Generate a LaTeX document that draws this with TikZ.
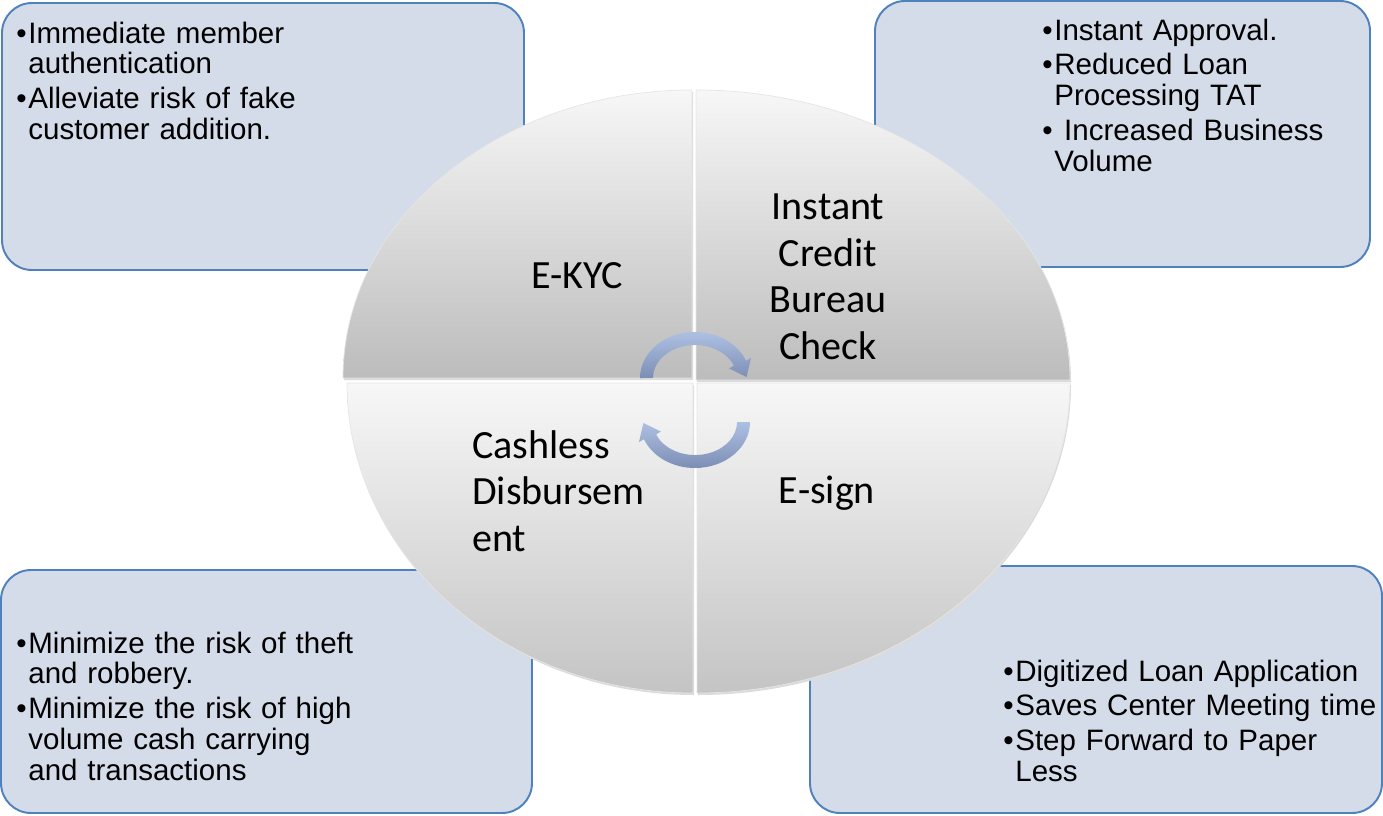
\documentclass[tikz,border=0pt]{standalone}
\usepackage{fontspec}
\setmainfont{Liberation Sans}
\newfontfamily\calibrifont{Carlito}
\usetikzlibrary{positioning}
\definecolor{boxfill}{HTML}{D4DBE9}
\definecolor{boxline}{HTML}{4F81BD}
\definecolor{quadlight}{HTML}{F7F7F7}
\definecolor{quaddark}{HTML}{BCBCBC}
\definecolor{quadlow}{HTML}{C4C4C4}
\definecolor{arrowtop}{HTML}{AEC0E2}
\definecolor{arrowbot}{HTML}{7C8EB4}

% one bullet paragraph, wrapped lines hang under the text
\newcommand{\bitem}[1]{\hangindent=0.24cm\hangafter=1\noindent\makebox[0.24cm][l]{\textbullet}#1\par}

\begin{document}
\begin{tikzpicture}[x=0.02cm, y=0.02cm,
  infobox/.style={draw=boxline, line width=1.1pt, fill=boxfill, rounded corners=0.6cm},
  infotext/.style={anchor=base west, inner sep=0pt, text width=11cm, align=left,
    font=\fontsize{16.8pt}{17.6pt}\selectfont,
    execute at begin node={\setlength{\parskip}{2.3pt}}},
  quadshadow/.style={fill=black!14},
  quad/.style={draw=black!10, line width=0.4pt},
  segtext/.style={font=\calibrifont\fontsize{22.8pt}{26.5pt}\selectfont, inner sep=0pt},
  cyclearrow/.style={top color=arrowtop, bottom color=arrowbot}]
  \useasboundingbox (0,0) rectangle (1383,-815);

  % Boxes
  \draw[infobox] (2,-3) rectangle (524,-270);
  \draw[infobox] (875,-1) rectangle (1370,-267);
  \draw[infobox] (1,-570) rectangle (532,-813);
  \draw[infobox] (810,-566) rectangle (1382,-813);

  % Quadrants, shadow first
  \fill[quadshadow] (693,-380) -- (344,-380) arc[start angle=180, end angle=90, x radius=349, y radius=288] -- cycle;
  \fill[quadshadow] (697,-382) -- (697,-92) arc[start angle=90, end angle=0, x radius=374, y radius=290] -- cycle;
  \fill[quadshadow] (694,-385) -- (348,-385) arc[start angle=180, end angle=270, x radius=346, y radius=310] -- cycle;
  \fill[quadshadow] (698,-385) -- (698,-695) arc[start angle=270, end angle=360, x radius=373, y radius=310] -- cycle;

  \shade[quad, top color=quadlight, bottom color=quaddark] (692,-378) -- (343,-378) arc[start angle=180, end angle=90, x radius=349, y radius=288] -- cycle;
  \shade[quad, top color=quadlight, bottom color=quaddark] (696,-380) -- (696,-90) arc[start angle=90, end angle=0, x radius=374, y radius=290] -- cycle;
  \shade[quad, top color=quadlight, bottom color=quadlow] (693,-383) -- (347,-383) arc[start angle=180, end angle=270, x radius=346, y radius=310] -- cycle;
  \shade[quad, top color=quadlight, bottom color=quadlow] (697,-383) -- (697,-693) arc[start angle=270, end angle=360, x radius=373, y radius=310] -- cycle;

  % Quadrant labels
  \node[segtext] (ekyc) at (577,-276) {E-KYC};
  \node[segtext, align=center] (credit) at (828,-277) {Instant\\Credit\\Bureau\\Check};
  \node[segtext, align=left, anchor=west] (cashless) at (472,-491) {Cashless\\Disbursem\\ent};
  \node[segtext] (esign) at (827,-493) {E-sign};

  % Cycle arrows
  \shade[cyclearrow] (640,-378) arc[start angle=180, end angle=22, x radius=55, y radius=46]
    -- (751,-358) -- (746.6,-377) -- (729.2,-368.5) -- (733.9,-365.6)
    arc[start angle=22, end angle=180, x radius=42, y radius=33] -- cycle;
  \shade[cyclearrow] (750,-422) arc[start angle=0, end angle=-158, x radius=55, y radius=46]
    -- (639,-442) -- (643.4,-423) -- (660.8,-431.5) -- (656.1,-434.4)
    arc[start angle=-158, end angle=0, x radius=42, y radius=33] -- cycle;

  % Box texts
  \node[infotext] (ekycnotes) at (16,-43)
    {\bitem{Immediate member\newline authentication}\bitem{Alleviate risk of fake\newline customer addition.}};
  \node[infotext] (creditnotes) at (1042,-40)
    {\bitem{Instant Approval.}\bitem{Reduced Loan\newline Processing TAT}\bitem{\ Increased Business\newline Volume}};
  \node[infotext] (cashnotes) at (16,-653)
    {\bitem{Minimize the risk of theft\newline and robbery.}\bitem{Minimize the risk of high\newline volume cash carrying\newline and transactions}};
  \node[infotext] (esignnotes) at (1003,-681)
    {\bitem{Digitized Loan Application}\bitem{Saves Center Meeting time}\bitem{Step Forward to Paper\newline Less}};
\end{tikzpicture}
\end{document}
